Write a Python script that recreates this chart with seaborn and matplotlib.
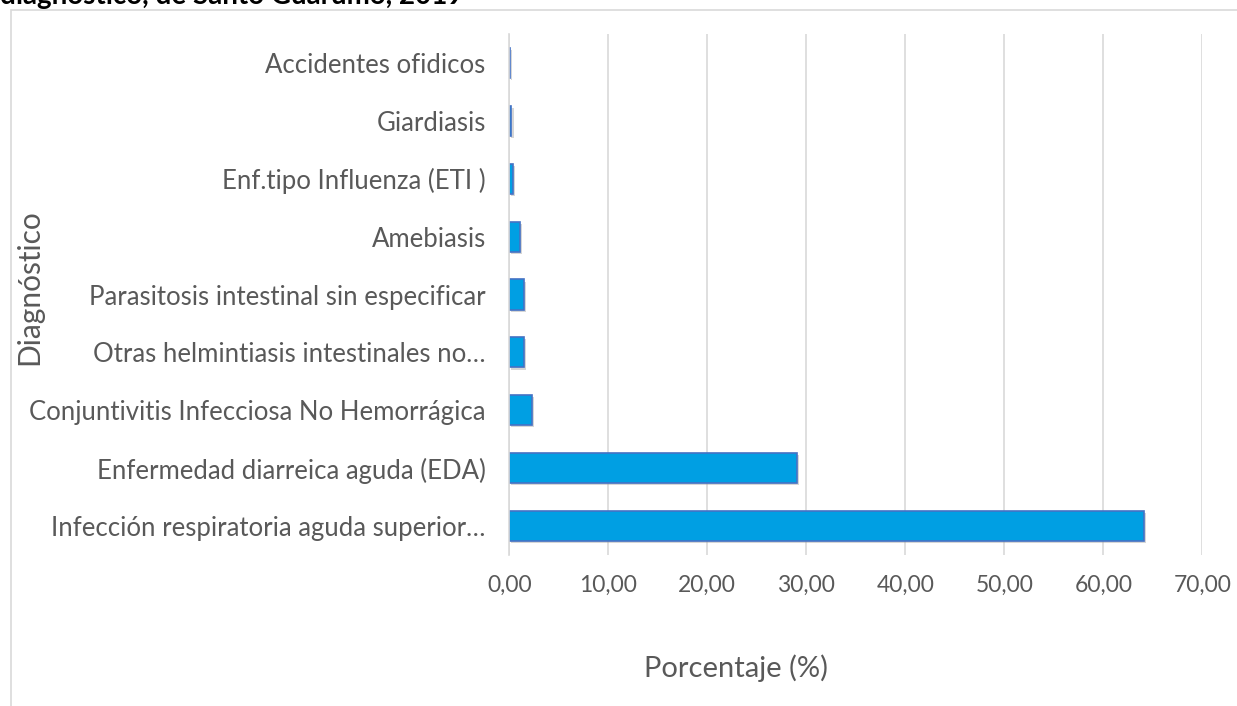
import pandas as pd
import numpy as np
import matplotlib
matplotlib.use("Agg")
import matplotlib.pyplot as plt
import matplotlib.patheffects as pe
from matplotlib.patches import Rectangle
import seaborn as sns

# Diagnósticos (de arriba hacia abajo en el gráfico original)
diagnosticos = [
    "Accidentes ofidicos",
    "Giardiasis",
    "Enf.tipo Influenza (ETI )",
    "Amebiasis",
    "Parasitosis intestinal sin especificar",
    "Otras helmintiasis intestinales no…",
    "Conjuntivitis Infecciosa No Hemorrágica",
    "Enfermedad diarreica aguda (EDA)",
    "Infección respiratoria aguda superior…",
]
porcentajes = [0.08, 0.22, 0.33, 1.05, 1.45, 1.52, 2.3, 29.05, 64.1]
x_ticks = [0, 10, 20, 30, 40, 50, 60, 70]

df = pd.DataFrame({"diagnostico": diagnosticos, "porcentaje": porcentajes})

sns.set_theme(style="white")
plt.rcParams["font.family"] = ["Lato", "DejaVu Sans"]

gris = "#595959"
fig = plt.figure(figsize=(12.37, 7.06), dpi=100)
ax = fig.add_axes([509.3 / 1237, 1 - 555 / 706, 693 / 1237, 521 / 706])

sns.barplot(data=df, x="porcentaje", y="diagnostico", orient="h", ax=ax,
            color="#009FE3", width=0.52, saturation=1,
            edgecolor="#4472C4", linewidth=1.2)
for bar in ax.patches:
    bar.set_path_effects([pe.SimplePatchShadow(offset=(1.5, -1.5), shadow_rgbFace="#999999", alpha=0.4),
                          pe.Normal()])

ax.set_xlim(0, 70)
ax.set_xticks(x_ticks)
ax.set_xticklabels([f"{v:.2f}".replace(".", ",") for v in x_ticks], color=gris, fontsize=16.5)
ax.tick_params(axis="x", pad=14, length=0)
ax.tick_params(axis="y", pad=17, length=0, labelsize=18.5, labelcolor=gris)
ax.grid(axis="x", color="#d9d9d9", linewidth=1.2)
ax.set_axisbelow(True)
for s in ["top", "right", "bottom"]:
    ax.spines[s].set_visible(False)
ax.spines["left"].set_color("#d9d9d9")
ax.spines["left"].set_linewidth(1.2)

ax.set_xlabel("Porcentaje (%)", fontsize=21, color=gris)
ax.xaxis.set_label_coords(0.327, -0.19)
ax.set_ylabel("Diagnóstico", fontsize=21.5, color=gris)
ax.yaxis.set_label_coords(-0.672, 0.515)

# marco del área del gráfico
marco = Rectangle((10.5 / 1237, -0.1), 1.2, 1 - 10.5 / 706 + 0.1, transform=fig.transFigure,
                  fill=False, edgecolor="#d9d9d9", linewidth=1.2, clip_on=False)
fig.patches.append(marco)

# título del documento, cortado arriba
fig.text(0.0, 1 - 4 / 706, "diagnóstico, de Santo Guarumo, 2019", fontsize=20,
         fontweight="bold", color="black", va="baseline", ha="left")

fig.savefig("out.png", dpi=100)
